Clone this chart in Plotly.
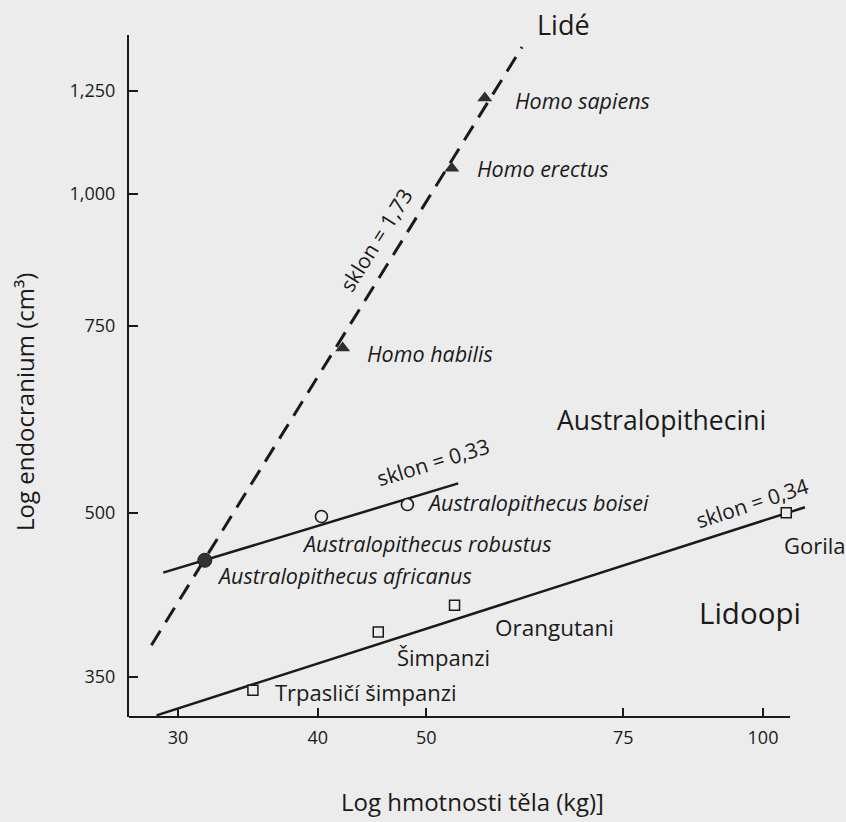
import plotly.graph_objects as go

# ---------------- data ----------------
hom_names = ["Homo habilis", "Homo erectus", "Homo sapiens"]
hom_mass = [42.1, 52.7, 56.4]          # kg
hom_brain = [715, 1057, 1231]          # cm3

aus_names = ["Australopithecus africanus", "Australopithecus robustus", "Australopithecus boisei"]
aus_mass = [31.7, 40.3, 48.1]
aus_brain = [451, 496, 509]

ape_names = ["Trpasličí šimpanzi", "Šimpanzi", "Orangutani", "Gorila"]
ape_mass = [35.0, 45.3, 53.0, 104.9]
ape_brain = [340, 386, 409, 500]

# regression lines (end points)
human_fit_mass = [28.4, 60.9]
human_fit_brain = [375, 1375]
aus_fit_mass = [29.1, 53.4]
aus_fit_brain = [439, 533]
ape_fit_mass = [28.7, 109.0]
ape_fit_brain = [322, 506]

x_ticks = [30, 40, 50, 75, 100]
x_ticktext = ["30", "40", "50", "75", "100"]
y_ticks = [350, 500, 750, 1000, 1250]
y_ticktext = ["350", "500", "750", "1,000", "1,250"]

# ---------------- layout helpers ----------------
W, H = 846, 822
L, R, T, B = 129, 810, 35, 717
def P(x, y):
    return (x - L) / (R - L), (B - y) / (B - T)

INK = "#1a1a1a"
FONT = "Open Sans"
BG = "#ececec"

fig = go.Figure()

# lines
fig.add_trace(go.Scatter(x=human_fit_mass, y=human_fit_brain, mode="lines",
                         line=dict(color=INK, width=3, dash="17px,10px"), hoverinfo="skip"))
fig.add_trace(go.Scatter(x=aus_fit_mass, y=aus_fit_brain, mode="lines",
                         line=dict(color=INK, width=2.5), hoverinfo="skip"))
fig.add_trace(go.Scatter(x=ape_fit_mass, y=ape_fit_brain, mode="lines",
                         line=dict(color=INK, width=2.5), hoverinfo="skip"))

# markers
fig.add_trace(go.Scatter(x=hom_mass, y=hom_brain, mode="markers", text=hom_names,
                         marker=dict(symbol="triangle-up", size=13, color="#2e2e2e"),
                         cliponaxis=False))
fig.add_trace(go.Scatter(x=aus_mass[:1], y=aus_brain[:1], mode="markers", text=aus_names[:1],
                         marker=dict(symbol="circle", size=14, color="#333333",
                                     line=dict(color=INK, width=1)),
                         cliponaxis=False))
fig.add_trace(go.Scatter(x=aus_mass[1:], y=aus_brain[1:], mode="markers", text=aus_names[1:],
                         marker=dict(symbol="circle", size=12, color=BG,
                                     line=dict(color=INK, width=1.6)),
                         cliponaxis=False))
fig.add_trace(go.Scatter(x=ape_mass, y=ape_brain, mode="markers", text=ape_names,
                         marker=dict(symbol="square", size=10, color=BG,
                                     line=dict(color=INK, width=1.5)),
                         cliponaxis=False))

ann = []
def label(text, x, y, size=21.5, italic=False, anchor="left", angle=0):
    px, py = P(x, y)
    t = f"<i>{text}</i>" if italic else text
    ann.append(dict(text=t, x=px, y=py, xref="paper", yref="paper", showarrow=False,
                    xanchor=anchor, yanchor="middle", textangle=angle,
                    font=dict(family=FONT, size=size, color=INK)))

# group labels
label("Lidé", 535, 24, size=27)
label("Australopithecini", 555, 420, size=26.5)
label("Lidoopi", 697, 612, size=29.5)

# species labels
label("Homo sapiens", 513, 100, italic=True)
label("Homo erectus", 475, 168, italic=True)
label("Homo habilis", 365, 353, italic=True)
label("Australopithecus boisei", 425, 502, italic=True)
label("Australopithecus robustus", 300, 543, italic=True)
label("Australopithecus africanus", 215, 575, italic=True)
label("Gorila", 782, 545, size=22)
label("Orangutani", 493, 627, size=22.5)
label("Šimpanzi", 395, 657, size=22)
label("Trpasličí šimpanzi", 273, 692, size=22)

# slopes
label("sklon = 1,73", 376, 240, size=21, anchor="center", angle=-58)
label("sklon = 0,33", 433, 462, size=21, anchor="center", angle=-17)
label("sklon = 0,34", 752, 503, size=21, anchor="center", angle=-18)

# axis titles
label("Log hmotnosti těla (kg)]", 472, 802, size=24, anchor="center")
label("Log endocranium (cm³)", 24, 402, size=24, anchor="center", angle=-90)

fig.update_layout(
    width=W, height=H,
    margin=dict(l=L, r=W - R, t=T, b=H - B),
    paper_bgcolor=BG, plot_bgcolor=BG,
    showlegend=False,
    hovermode=False,
    annotations=ann,
    font=dict(family=FONT, color=INK),
    shapes=[dict(type="line", xref="paper", yref="paper",
                 x0=0, x1=(790 - L) / (R - L), y0=0, y1=0,
                 line=dict(color=INK, width=2))],
)
fig.update_xaxes(type="log", range=[1.4333, 2.0420], showgrid=False, zeroline=False,
                 showline=False, ticks="inside", ticklen=9, tickwidth=1.5, tickcolor=INK,
                 tickvals=x_ticks, ticktext=x_ticktext, ticklabelstandoff=8,
                 tickfont=dict(family=FONT, size=18, color=INK))
fig.update_yaxes(type="log", range=[2.5063, 3.1497], showgrid=False, zeroline=False,
                 showline=True, linecolor=INK, linewidth=2,
                 ticks="inside", ticklen=9, tickwidth=1.5, tickcolor=INK,
                 tickvals=y_ticks, ticktext=y_ticktext, ticklabelstandoff=8,
                 tickfont=dict(family=FONT, size=18, color=INK))

fig.write_html("out.html", config={"displayModeBar": False},
               post_script="document.body.style.margin='0px';document.body.style.overflow='hidden';")
